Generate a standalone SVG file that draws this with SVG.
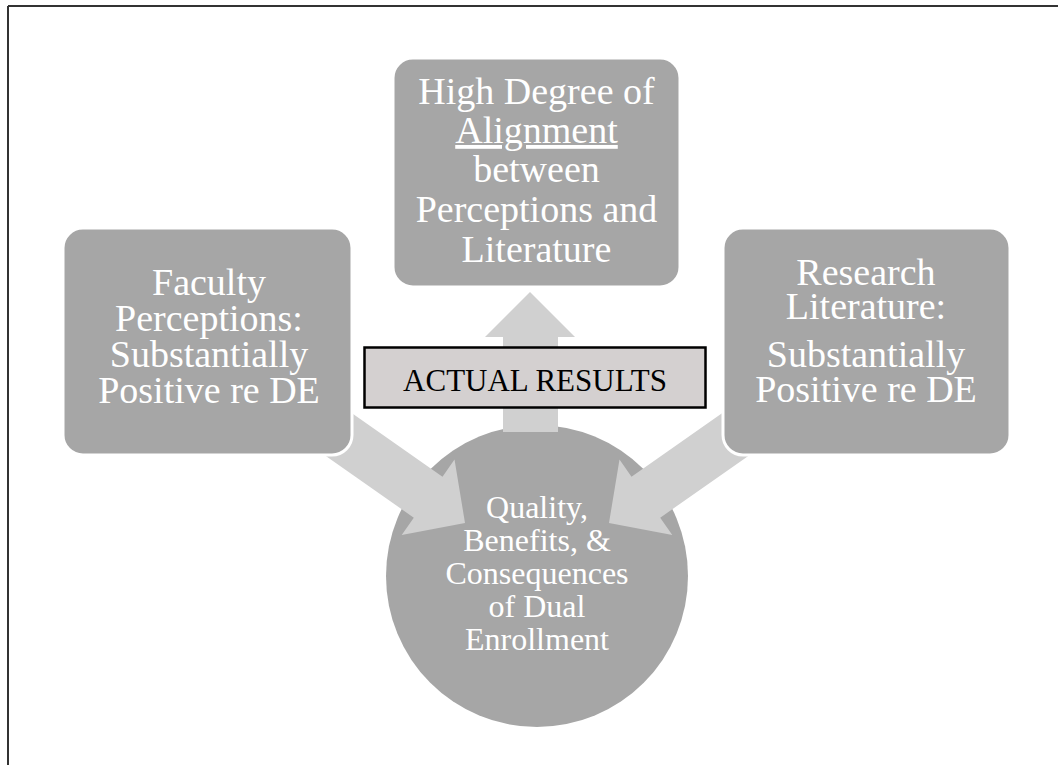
<svg xmlns="http://www.w3.org/2000/svg" width="1058" height="765" viewBox="0 0 1058 765">
<style>
.node{fill:#a6a6a6;stroke:#ffffff;stroke-width:3}
.arrow{fill:#d0d0d0;stroke:none}
.wt{fill:#ffffff;font-family:"Liberation Serif","Times New Roman",serif;text-anchor:middle}
.big{font-size:38px}
.mid{font-size:32px}
.lbl{fill:#000000;font-family:"Liberation Serif","Times New Roman",serif;font-size:31px;text-anchor:middle}
</style>
<rect x="0" y="0" width="1058" height="765" fill="#ffffff"/>
<g id="frame" stroke="#333333" stroke-width="2" fill="none">
<line x1="8" y1="6" x2="1058" y2="6"/>
<line x1="8" y1="6" x2="8" y2="765"/>
</g>
<g id="center">
<circle cx="537" cy="576" r="151" fill="#a6a6a6"/>
</g>
<g id="connectors">
<polygon class="arrow" points="319.6,390.6 442.5,476.7 454.5,459.5 465,523 401.7,534.9 413.8,517.7 290.9,431.6"/>
<polygon class="arrow" points="754.4,390.6 631.5,476.7 619.5,459.5 609,523 672.3,534.9 660.2,517.7 783.1,431.6"/>
<polygon class="arrow" points="503,432 503,337 485,337 530,292 575,337 558,337 558,432"/>
</g>
<g id="top">
<rect class="node" x="393" y="58" width="287" height="229" rx="20"/>
<text class="wt big" x="536.5" y="104">High Degree of</text>
<text class="wt big" x="536.5" y="143" text-decoration="underline">Alignment</text>
<text class="wt big" x="536.5" y="182">between</text>
<text class="wt big" x="536.5" y="222">Perceptions and</text>
<text class="wt big" x="536.5" y="262">Literature</text>
</g>
<g id="left">
<rect class="node" x="63" y="228" width="289" height="227" rx="20"/>
<text class="wt big" x="209" y="295">Faculty</text>
<text class="wt big" x="209" y="331">Perceptions:</text>
<text class="wt big" x="209" y="367">Substantially</text>
<text class="wt big" x="209" y="403">Positive re DE</text>
</g>
<g id="right">
<rect class="node" x="723" y="228" width="287" height="227" rx="20"/>
<text class="wt big" x="866" y="285">Research</text>
<text class="wt big" x="866" y="319">Literature:</text>
<text class="wt big" x="866" y="367">Substantially</text>
<text class="wt big" x="866" y="402">Positive re DE</text>
</g>
<g id="results">
<rect x="364.5" y="347.5" width="341" height="60" fill="#d4d0d0" stroke="#000000" stroke-width="2.5"/>
<text class="lbl" x="535" y="391">ACTUAL RESULTS</text>
</g>
<g id="center-label">
<text class="wt mid" x="537" y="518">Quality,</text>
<text class="wt mid" x="537" y="551">Benefits, &amp;</text>
<text class="wt mid" x="537" y="584">Consequences</text>
<text class="wt mid" x="537" y="617">of Dual</text>
<text class="wt mid" x="537" y="650">Enrollment</text>
</g>
</svg>
